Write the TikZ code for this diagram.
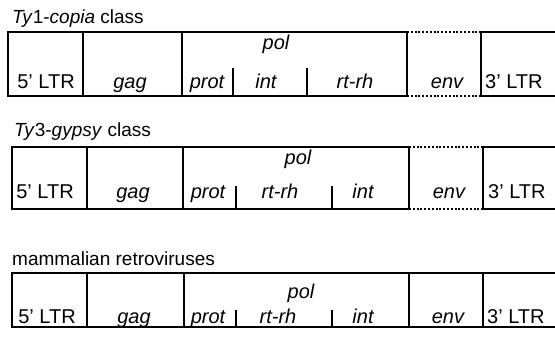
\documentclass[tikz,border=0pt]{standalone}
\usepackage{fontspec}
\setmainfont{Liberation Sans}
\usepackage{xcolor}
\definecolor{figline}{RGB}{0,0,0}
\tikzset{
  sc/.style   ={draw=figline, line width=1.3pt, line cap=butt},
  scb/.style  ={draw=figline, line width=2pt},
  scd/.style  ={draw=figline, line width=2pt, dash pattern=on 2pt off 1.8pt},
  lab/.style  ={font=\fontsize{20}{22}\selectfont\itshape, inner sep=0pt, anchor=base},
  labn/.style ={font=\fontsize{20}{22}\selectfont, inner sep=0pt, anchor=base},
  ttl/.style  ={font=\fontsize{19}{21}\selectfont, inner sep=0pt, anchor=base west},
}

\begin{document}
\begin{tikzpicture}[x=1pt,y=-1pt]
  \useasboundingbox (0,0) rectangle (555,338);
  % Ty1-copia
  \node[ttl] (ti1) at (12,23) {\textit{Ty}1-\textit{copia} class};
  \draw[scb] (8,32) rectangle (407,96);
  \draw[scb] (83,32) -- (83,96);
  \draw[scb] (182,32) -- (182,96);
  \draw[sc] (233,68) -- (233,96);
  \draw[sc] (307,68) -- (307,96);
  \draw[scd] (407,32) -- (481,32);
  \draw[scd] (407,96) -- (481,96);
  \draw[scb] (555,32) -- (481,32) -- (481,96) -- (555,96);
  \node[labn] (ltra) at (46,88) {5' LTR};
  \node[lab] (gaga) at (130,88) {gag};
  \node[lab] (pola) at (276,49) {pol};
  \node[lab] (prota) at (207,88) {prot};
  \node[lab] (inta) at (266,88) {int};
  \node[lab] (rta) at (355,88) {rt-rh};
  \node[lab] (enva) at (447,88) {env};
  \node[labn,anchor=base west] (ltrra) at (485,88) {3' LTR};
  % Ty3-gypsy
  \node[ttl] (ti2) at (14,136) {\textit{Ty}3-\textit{gypsy} class};
  \draw[scb] (12,147) rectangle (409,209);
  \draw[scb] (87,147) -- (87,209);
  \draw[scb] (183,147) -- (183,209);
  \draw[sc] (236,186) -- (236,209);
  \draw[sc] (332,186) -- (332,209);
  \draw[scd] (409,147) -- (483,147);
  \draw[scd] (409,209) -- (483,209);
  \draw[scb] (555,147) -- (483,147) -- (483,209) -- (555,209);
  \node[labn] (ltrb) at (45,198) {5' LTR};
  \node[lab] (gagb) at (133,198) {gag};
  \node[lab] (polb) at (298,164) {pol};
  \node[lab] (protb) at (208,198) {prot};
  \node[lab] (rtb) at (280,198) {rt-rh};
  \node[lab] (intb) at (363,198) {int};
  \node[lab] (envb) at (449,198) {env};
  \node[labn,anchor=base west] (ltrrb) at (488,198) {3' LTR};
  % mammalian retroviruses
  \node[ttl] (ti3) at (12,265) {mammalian retroviruses};
  \draw[scb] (12,273) rectangle (409,327);
  \draw[scb] (87,273) -- (87,327);
  \draw[scb] (184,273) -- (184,327);
  \draw[sc] (236,310) -- (236,327);
  \draw[sc] (332,310) -- (332,327);
  \draw[scb] (555,273) -- (409,273);
  \draw[scb] (555,327) -- (409,327);
  \draw[scb] (483,273) -- (483,327);
  \node[labn] (ltrc) at (47,323) {5' LTR};
  \node[lab] (gagc) at (134,323) {gag};
  \node[lab] (polc) at (301,298) {pol};
  \node[lab] (protc) at (208,323) {prot};
  \node[lab] (rtc) at (278,323) {rt-rh};
  \node[lab] (intc) at (363,323) {int};
  \node[lab] (envc) at (448,323) {env};
  \node[labn,anchor=base west] (ltrrc) at (487,323) {3' LTR};
\end{tikzpicture}
\end{document}
